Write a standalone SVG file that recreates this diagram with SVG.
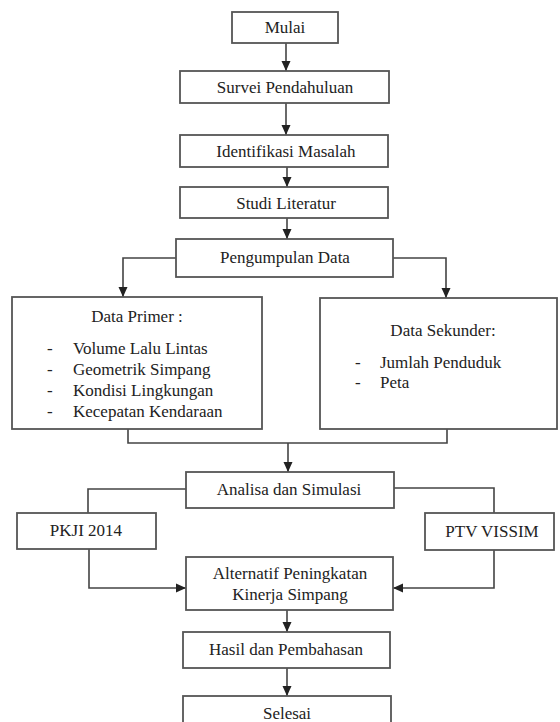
<svg xmlns="http://www.w3.org/2000/svg" width="560" height="722" viewBox="0 0 560 722">
<defs>
<marker id="ah" markerUnits="userSpaceOnUse" markerWidth="10" markerHeight="10" viewBox="0 0 10 10" refX="10" refY="5" orient="auto">
<path d="M0,0.5 L10,5 L0,9.5 Z" fill="#222"/>
</marker>
<style>
.box{fill:#fff;stroke:#555;stroke-width:1.8}
.t{font-family:"Liberation Serif","Times New Roman",serif;font-size:17px;fill:#222}
.c{text-anchor:middle}
.ln{fill:none;stroke:#444;stroke-width:1.6}
.ar{marker-end:url(#ah)}
</style>
</defs>
<rect width="560" height="722" fill="#fff"/>
<g id="connectors">
<path class="ln ar" d="M286,43 V71"/>
<path class="ln ar" d="M286,103 V135"/>
<path class="ln ar" d="M287,167 V187"/>
<path class="ln ar" d="M287,218 V239"/>
<path class="ln ar" d="M176,258 H123 V297"/>
<path class="ln ar" d="M393,258 H446 V298"/>
<path class="ln" d="M128,429 V443 H447 V429"/>
<path class="ln ar" d="M288,443 V472"/>
<path class="ln" d="M186,489 H88 V513"/>
<path class="ln" d="M394,488 H494 V513"/>
<path class="ln ar" d="M89,549 V588 H186"/>
<path class="ln ar" d="M494,550 V588 H393"/>
<path class="ln ar" d="M287,610 V632"/>
<path class="ln ar" d="M287,668 V696"/>
</g>
<g id="mulai"><rect class="box" x="232" y="12" width="106" height="31"/><text class="t c" x="285" y="33">Mulai</text></g>
<g id="survei"><rect class="box" x="180" y="71" width="209" height="32"/><text class="t c" x="285" y="93">Survei Pendahuluan</text></g>
<g id="identifikasi"><rect class="box" x="180" y="135" width="208" height="32"/><text class="t c" x="286" y="157">Identifikasi Masalah</text></g>
<g id="studi"><rect class="box" x="180" y="187" width="208" height="31"/><text class="t c" x="286" y="209">Studi Literatur</text></g>
<g id="pengumpulan"><rect class="box" x="176" y="239" width="217" height="38"/><text class="t c" x="285" y="263">Pengumpulan Data</text></g>
<g id="primer"><rect class="box" x="12" y="297" width="250" height="132"/>
<text class="t c" x="137" y="322">Data Primer :</text>
<text class="t" x="47" y="354">-</text><text class="t" x="73" y="354">Volume Lalu Lintas</text>
<text class="t" x="47" y="375">-</text><text class="t" x="73" y="375">Geometrik Simpang</text>
<text class="t" x="47" y="396">-</text><text class="t" x="73" y="396">Kondisi Lingkungan</text>
<text class="t" x="47" y="417">-</text><text class="t" x="73" y="417">Kecepatan Kendaraan</text>
</g>
<g id="sekunder"><rect class="box" x="320" y="298" width="237" height="131"/>
<text class="t c" x="443" y="336">Data Sekunder:</text>
<text class="t" x="355" y="368">-</text><text class="t" x="380" y="368">Jumlah Penduduk</text>
<text class="t" x="355" y="388">-</text><text class="t" x="380" y="388">Peta</text>
</g>
<g id="analisa"><rect class="box" x="186" y="472" width="208" height="36"/><text class="t c" x="289" y="495">Analisa dan Simulasi</text></g>
<g id="pkji"><rect class="box" x="17" y="513" width="139" height="36"/><text class="t c" x="86" y="536">PKJI 2014</text></g>
<g id="ptv"><rect class="box" x="425" y="513" width="129" height="37"/><text class="t c" x="492" y="537">PTV VISSIM</text></g>
<g id="alternatif"><rect class="box" x="186" y="557" width="207" height="53"/><text class="t c" x="290" y="579">Alternatif Peningkatan</text><text class="t c" x="290" y="600">Kinerja Simpang</text></g>
<g id="hasil"><rect class="box" x="183" y="632" width="207" height="36"/><text class="t c" x="286" y="655">Hasil dan Pembahasan</text></g>
<g id="selesai"><rect class="box" x="183" y="696" width="208" height="40"/><text class="t c" x="287" y="719">Selesai</text></g>
</svg>
